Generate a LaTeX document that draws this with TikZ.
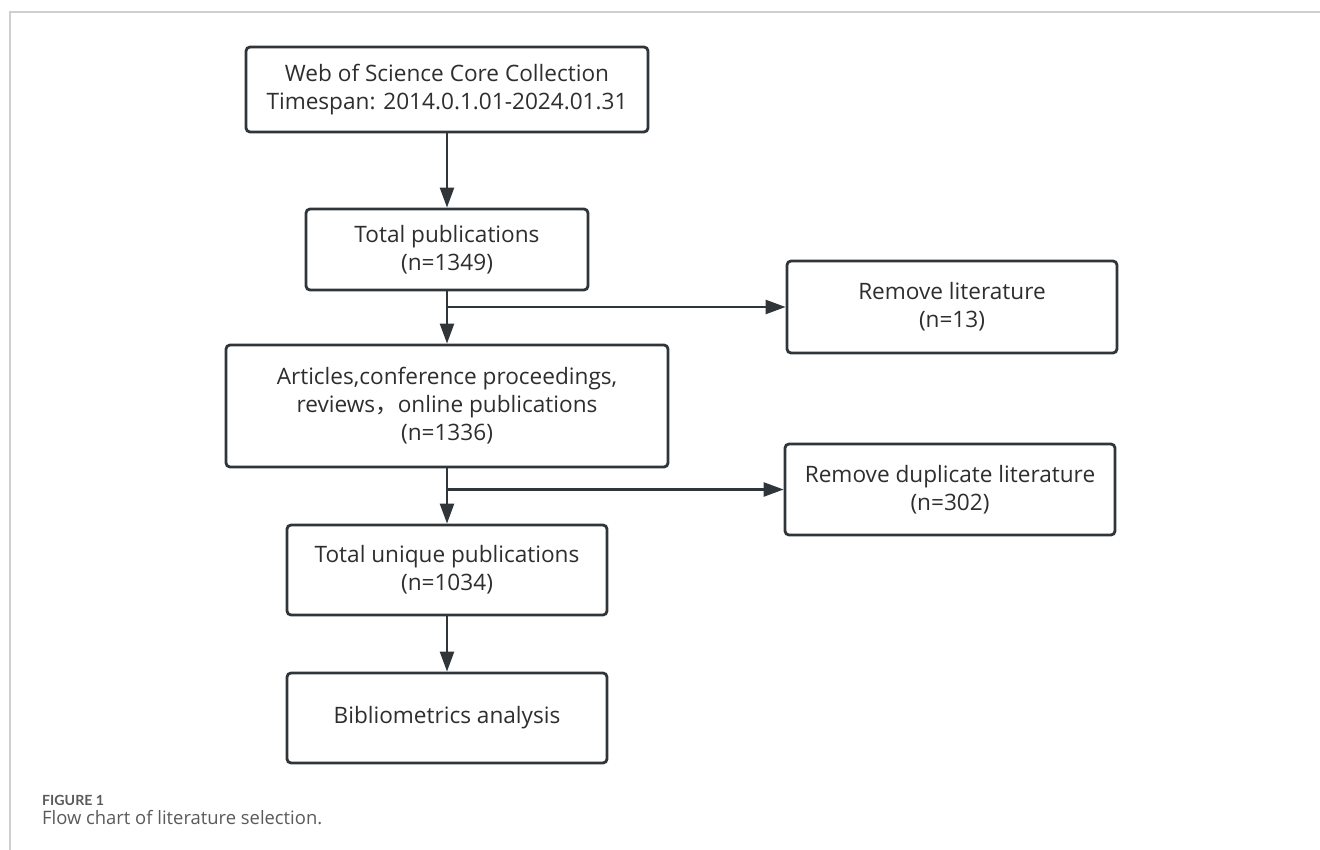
\documentclass[tikz,border=0pt]{standalone}
\usepackage{fontspec}
\usepackage{graphicx}
\setmainfont{Open Sans}
\newfontfamily\cjk{Noto Sans CJK SC}
\newfontfamily\capfont{Lato}
\usetikzlibrary{arrows.meta,calc}
\definecolor{boxline}{HTML}{30353A}
\definecolor{boxtext}{HTML}{2E2E2E}
\definecolor{frameline}{HTML}{CFCFCF}
\definecolor{captext}{HTML}{5A5A5A}
\tikzset{
  flowbox/.style={draw=boxline, line width=2.8pt, rounded corners=4pt, fill=white,
    align=center, inner sep=0pt, text=boxtext,
    font=\fontsize{22.6}{28}\selectfont},
  flowarrow/.style={draw=boxline, line width=2.4pt,
    -{Triangle[length=20pt,width=14pt]}},
  frame/.style={draw=frameline, line width=1.6pt}
}
\begin{document}
\begin{tikzpicture}[x=1pt,y=-1pt]
\useasboundingbox (0,0) rectangle (1320,850);
% page frame
\draw[frame] (10,850) -- (10,12) -- (1320,12);
% boxes
\node[flowbox, minimum width=402pt, minimum height=85pt] (b1) at (447,89.5)
  {Web of Science Core Collection\\Timespan: 2014.0.1.01-2024.01.31};
\node[flowbox, minimum width=282pt, minimum height=81pt] (b2) at (447,249.5)
  {Total publications\\(n=1349)};
\node[flowbox, minimum width=442pt, minimum height=122pt] (b3) at (447,406)
  {Articles,conference proceedings,\\reviews{\cjk ，}online publications\\(n=1336)};
\node[flowbox, minimum width=320pt, minimum height=90pt] (b4) at (447,570)
  {Total unique publications\\(n=1034)};
\node[flowbox, minimum width=320pt, minimum height=90pt] (b5) at (447,718)
  {Bibliometrics analysis};
\node[flowbox, minimum width=330pt, minimum height=92pt] (rl) at (952,307)
  {Remove literature\\(n=13)};
\node[flowbox, minimum width=330pt, minimum height=91pt] (rd) at (950,489.5)
  {Remove duplicate literature\\(n=302)};
% junctions
\coordinate (j1) at (b2.south |- rl.west);
\coordinate (j2) at (b3.south |- rd.west);
% connectors
\draw[flowarrow] (b1.south) -- (b2.north);
\draw[flowarrow] (b2.south) -- (b3.north);
\draw[flowarrow] (j1) -- (rl.west);
\draw[flowarrow] (b3.south) -- (b4.north);
\draw[flowarrow] (j2) -- (rd.west);
\draw[flowarrow] (b4.south) -- (b5.north);
% caption
\node[anchor=base west, inner sep=0pt, text=captext] (fig) at (42,805)
  {\resizebox{62pt}{\height}{\capfont\bfseries\fontsize{14}{16}\selectfont FIGURE 1}};
\node[anchor=base west, inner sep=0pt, text=captext] (cap) at (42,824)
  {\resizebox{280pt}{\height}{\fontsize{18.5}{22}\selectfont Flow chart of literature selection.}};
\end{tikzpicture}
\end{document}
